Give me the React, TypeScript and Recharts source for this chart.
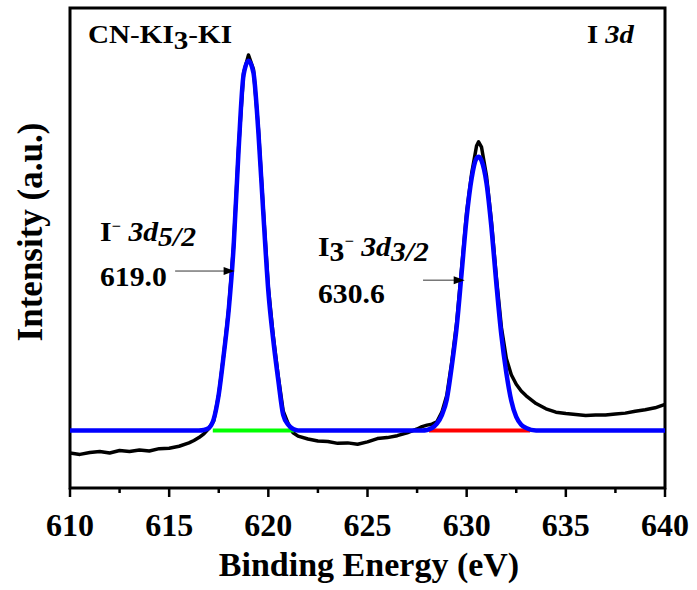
import {
  Line,
  LineChart,
  ReferenceArea,
  ReferenceDot,
  ReferenceLine,
  XAxis,
  YAxis,
} from 'recharts';

// binding energy grid (eV)
const energies = [
  610, 610.5, 611, 611.5, 612, 612.5, 613, 613.5, 614, 614.5, 615, 615.5, 616,
  616.25, 616.5, 616.75, 617, 617.25, 617.5, 617.75, 618, 618.25, 618.5, 618.75,
  619, 619.25, 619.5, 619.75, 620, 620.25, 620.5, 620.75, 621, 621.25, 621.5,
  622, 622.5, 623, 623.5, 624, 624.5, 625, 625.5, 626, 626.5, 627, 627.5,
  627.75, 628, 628.25, 628.5, 628.75, 629, 629.25, 629.5, 629.75, 630, 630.25,
  630.5, 630.6, 630.75, 631, 631.25, 631.5, 631.75, 632, 632.25, 632.5, 632.75,
  633, 633.5, 634, 634.5, 635, 635.5, 636, 636.5, 637, 637.5, 638, 638.5, 639,
  639.5, 640,
];

// raw spectrum (black)
const measured = [
  7.3, 7.0, 7.4, 7.6, 7.3, 7.8, 7.6, 7.9, 7.7, 8.2, 8.3, 8.7, 9.4,
  9.9, 10.5, 11.3, 12.4, 14.0, 19.5, 27.8, 37.3, 50.6, 70.8, 86.4,
  90.2, 87.2, 74.8, 57.8, 41.8, 31.6, 23.3, 16.0, 13.4, 11.5, 10.8,
  10.2, 9.8, 9.7, 9.3, 9.4, 9.1, 9.6, 10.3, 10.5, 10.9, 11.5, 12.3,
  12.8, 13.1, 13.3, 13.8, 15.8, 19.3, 26.3, 34.6, 46.0, 57.5, 65.5,
  71.3, 72.1, 71.0, 65.0, 55.5, 43.8, 33.5, 27.0, 23.6, 21.6, 20.2,
  19.2, 17.6, 16.5, 15.8, 15.5, 15.3, 15.1, 15.2, 15.2, 15.4, 15.6, 16.0, 16.3,
  16.7, 17.4,
];

// fitted envelope (blue)
const envelope = [
  12, 12, 12, 12, 12, 12, 12, 12, 12, 12, 12, 12, 12,
  12, 12, 12.1, 12.5, 14.4, 19.5, 27.7, 37.0, 50.3, 70.4, 86.0,
  89.0, 86.5, 74.0, 57.0, 41.0, 30.8, 22.5, 15.2, 13.2, 12.3, 12,
  12, 12, 12, 12, 12, 12, 12, 12, 12, 12, 12, 12,
  12, 12.1, 12.5, 13.4, 15.2, 18.5, 25.4, 33.7, 45.0, 56.4, 64.5,
  68.7, 69.0, 68.2, 63.5, 54.2, 42.4, 31.8, 24.0, 18.2, 14.8, 13.2,
  12.5, 12, 12, 12, 12, 12, 12, 12, 12, 12, 12, 12, 12,
  12, 12,
];

// component baselines
const greenEnergies = [617.2, 621.3];
const greenValues = [12, 12];
const redEnergies = [628.1, 633.2];
const redValues = [12, 12];

const xTicks = [
  610, 612.5, 615, 617.5, 620, 622.5, 625, 627.5, 630, 632.5, 635, 637.5, 640,
];

const measuredData = energies.map((e, i) => ({ e, v: measured[i] }));
const envelopeData = energies.map((e, i) => ({ e, v: envelope[i] }));
const greenData = greenEnergies.map((e, i) => ({ e, v: greenValues[i] }));
const redData = redEnergies.map((e, i) => ({ e, v: redValues[i] }));

const serif = '"Liberation Serif", "Times New Roman", serif';

const Head = (props: { cx?: number; cy?: number }) => {
  const { cx = 0, cy = 0 } = props;
  return <path d={`M${cx - 11},${cy - 4} L${cx},${cy} L${cx - 11},${cy + 4} Z`} fill="#000" />;
};

const Tick = (props: { x?: number; y?: number; payload?: { value: number } }) => {
  const { x = 0, y = 0, payload } = props;
  const v = payload ? payload.value : 0;
  const major = v % 5 === 0;
  return (
    <g>
      <line x1={x} x2={x} y1={y} y2={y + (major ? 9 : 5)} stroke="#000" strokeWidth={2.5} />
      {major && (
        <text
          x={x}
          y={y + 48}
          textAnchor="middle"
          fill="#000"
          style={{ fontFamily: serif, fontWeight: 'bold', fontSize: 32 }}
        >
          {v}
        </text>
      )}
    </g>
  );
};

const text = (extra: React.CSSProperties): React.CSSProperties => ({
  position: 'absolute',
  fontFamily: serif,
  fontWeight: 'bold',
  color: '#000',
  whiteSpace: 'nowrap',
  lineHeight: 1,
  transformOrigin: 'left top',
  ...extra,
});

export default function App() {
  return (
    <div style={{ position: 'absolute', left: 0, top: 0, width: 697, height: 590, background: '#fff' }}>
      <LineChart
        width={697}
        height={590}
        data={measuredData}
        margin={{ top: 8, right: 32, bottom: 0, left: 70 }}
      >
        <XAxis
          dataKey="e"
          type="number"
          domain={[610, 640]}
          ticks={xTicks}
          interval={0}
          tickSize={0}
          tickMargin={0}
          tickLine={false}
          axisLine={false}
          tick={<Tick />}
          height={102}
          allowDataOverflow
        />
        <YAxis type="number" domain={[0, 100]} hide />
        <ReferenceArea
          x1={610}
          x2={640}
          y1={0}
          y2={100}
          fill="none"
          fillOpacity={0}
          stroke="#000"
          strokeWidth={3}
          strokeOpacity={1}
        />
        <Line
          data={measuredData}
          dataKey="v"
          type="linear"
          stroke="#000"
          strokeWidth={3.5}
          strokeLinejoin="round"
          dot={false}
          isAnimationActive={false}
        />
        <Line
          data={greenData}
          dataKey="v"
          type="linear"
          stroke="#00ff00"
          strokeWidth={4}
          dot={false}
          isAnimationActive={false}
        />
        <Line
          data={redData}
          dataKey="v"
          type="linear"
          stroke="#ff0000"
          strokeWidth={4}
          dot={false}
          isAnimationActive={false}
        />
        <Line
          data={envelopeData}
          dataKey="v"
          type="monotone"
          stroke="#0000ff"
          strokeWidth={4.5}
          strokeLinejoin="round"
          dot={false}
          isAnimationActive={false}
        />
        <ReferenceLine
          segment={[
            { x: 615.3, y: 45.2 },
            { x: 617.9, y: 45.2 },
          ]}
          stroke="#333"
          strokeWidth={1}
        />
        <ReferenceDot x={618.3} y={45.2} r={4} shape={Head} />
        <ReferenceLine
          segment={[
            { x: 627.8, y: 43.3 },
            { x: 629.5, y: 43.3 },
          ]}
          stroke="#333"
          strokeWidth={1}
        />
        <ReferenceDot x={629.9} y={43.3} r={4} shape={Head} />
      </LineChart>

      <div style={text({ left: 88, top: 22, fontSize: 26, transform: 'scaleX(1.12)' })}>
        CN<span style={{ fontWeight: 'normal' }}>-</span>KI
        <span style={{ position: 'relative', top: 6 }}>3</span>
        <span style={{ fontWeight: 'normal' }}>-</span>KI
      </div>
      <div style={text({ left: 587, top: 22, fontSize: 26, transform: 'scaleX(1.1)' })}>
        I <i>3d</i>
      </div>

      <div style={text({ left: 100, top: 219, fontSize: 27, transform: 'scaleX(1.1)' })}>
        I<sup style={{ fontSize: 15, verticalAlign: 10 }}>−</sup> <i>3d</i>
        <i style={{ position: 'relative', top: 5 }}>5/2</i>
      </div>
      <div style={text({ left: 100, top: 264, fontSize: 27, transform: 'scaleX(1.1)' })}>619.0</div>

      <div style={text({ left: 318, top: 234, fontSize: 27, transform: 'scaleX(1.1)' })}>
        I<span style={{ position: 'relative', top: 5 }}>3</span>
        <sup style={{ fontSize: 15, verticalAlign: 10 }}>−</sup> <i>3d</i>
        <i style={{ position: 'relative', top: 5 }}>3/2</i>
      </div>
      <div style={text({ left: 318, top: 281, fontSize: 27, transform: 'scaleX(1.1)' })}>630.6</div>

      <div style={text({ left: 369, top: 548, fontSize: 34, transform: 'translateX(-50%)' })}>
        Binding Energy (eV)
      </div>
      <div
        style={text({
          left: 30,
          top: 232,
          fontSize: 35,
          transformOrigin: 'center center',
          transform: 'translate(-50%, -50%) rotate(-90deg)',
        })}
      >
        Intensity (a.u.)
      </div>
    </div>
  );
}
